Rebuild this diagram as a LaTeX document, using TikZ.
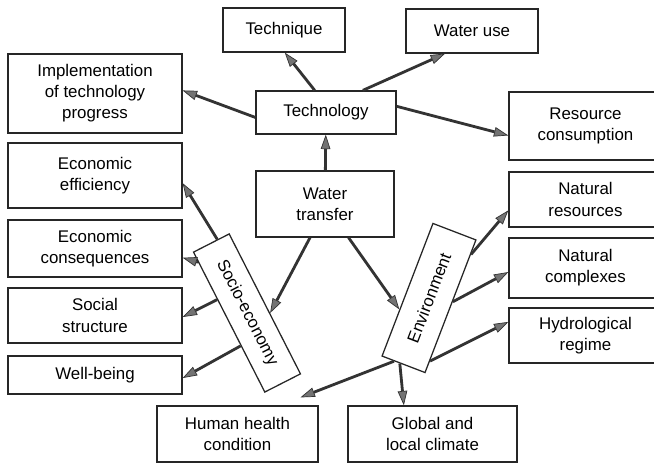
\documentclass[tikz,border=0pt]{standalone}
\usepackage{fontspec}
\setmainfont{Liberation Sans}
\usepackage{tikz}
\usetikzlibrary{arrows.meta}

\begin{document}
\begin{tikzpicture}[
  x=0.025cm, y=-0.025cm,
  font=\fontsize{12}{15}\selectfont,
  box/.style={draw=black!85, line width=0.9pt, align=center, inner sep=0pt},
  lbox/.style={box, minimum width=4.35cm},
  rbox/.style={box, minimum width=3.825cm},
  arr/.style={-{Triangle[length=0.36cm, width=0.24cm, line width=0.5pt, fill=black!55]}, line width=2pt, draw=black!80}
]
\useasboundingbox (0,0) rectangle (654,464);
\node[box, minimum width=3.05cm, minimum height=1.1cm] (tq) at (284,30) {Technique};
\node[box, minimum width=3.3cm, minimum height=1.1cm] (wu) at (472,31) {Water use};
\node[box, minimum width=3.5cm, minimum height=1.075cm] (techn) at (326,112.5) {Technology};
\node[box, minimum width=3.45cm, minimum height=1.65cm] (wt) at (325,204) {Water\\transfer};
\node[lbox, minimum height=1.975cm] (impl) at (95,93.5) {Implementation\\of technology\\progress};
\node[lbox, minimum height=1.625cm] (eeff) at (95,175.5) {Economic\\efficiency};
\node[lbox, minimum height=1.425cm] (econs) at (95,248.5) {Economic\\consequences};
\node[lbox, minimum height=1.375cm] (soc) at (95,315.5) {Social\\structure};
\node[lbox, minimum height=0.95cm] (wb) at (95,375) {Well-being};
\node[rbox, minimum height=1.7cm] (rc) at (585.5,126) {Resource\\consumption};
\node[rbox, minimum height=1.375cm] (nres) at (585.5,199.5) {Natural\\resources};
\node[rbox, minimum height=1.5cm] (ncomp) at (585.5,268) {Natural\\complexes};
\node[rbox, minimum height=1.375cm] (hydro) at (585.5,335.5) {Hydrological\\regime};
\node[box, minimum width=4.025cm, minimum height=1.4cm] (hh) at (237.5,434) {Human health\\condition};
\node[box, minimum width=4.225cm, minimum height=1.4cm] (gc) at (432.5,434) {Global and\\local climate};
\node[box, rotate=-63, minimum width=3.925cm, minimum height=1cm] (se) at (247,313) {Socio-economy};
\node[box, rotate=69, minimum width=3.55cm, minimum height=1.15cm] (env) at (429,298) {Environment};
\draw[arr] (wt) -- (techn);
\draw[arr] (techn.117) -- (tq.272);
\draw[arr] (techn.31) -- (wu.220);
\draw[arr] (techn.184) -- (impl.2);
\draw[arr] (techn.5) -- (rc.187);
\draw[arr] (wt.246) -- (se.63);
\draw[arr] (wt.305) -- (env.132);
\draw[arr] (se.175) -- (eeff.355);
\draw[arr] (se.197) -- (econs.354);
\draw[arr] (se.219) -- (soc.359);
\draw[arr] (se.322) -- (wb.358);
\draw[arr] (env.337) -- (nres.188);
\draw[arr] (env.282) -- (ncomp.183);
\draw[arr] (env.202) -- (hydro.170);
\draw[arr, shorten >=0.55cm] (env.172) -- (hh.34);
\draw[arr] (env.177) -- (gc.135);
\end{tikzpicture}
\end{document}
